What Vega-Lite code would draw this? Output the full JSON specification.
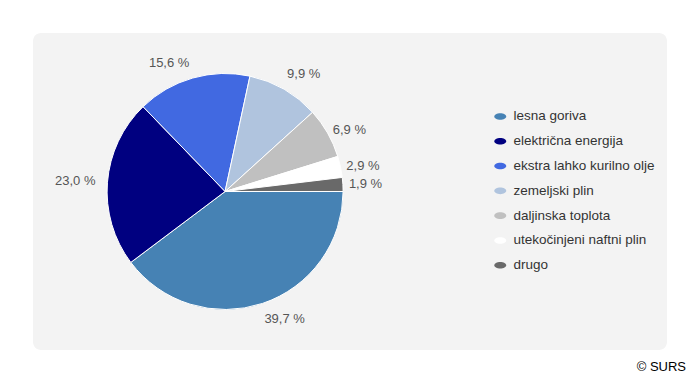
{
  "$schema": "https://vega.github.io/schema/vega-lite/v6.json",
  "width": 634,
  "height": 317,
  "autosize": {"type": "none"},
  "padding": {"left": 33, "top": 33, "right": 33, "bottom": 32},
  "background": "#ffffff",
  "view": {"fill": "#f3f3f3", "stroke": null, "cornerRadius": 8},
  "title": {"text": "© SURS", "orient": "bottom", "anchor": "end", "offset": 11, "dx": 19, "fontSize": 13, "fontWeight": "normal", "font": "Liberation Sans", "color": "#000000", "baseline": "top"},
  "data": {"values": [
    {"k": "lesna goriva", "v": 39.7, "label": "39,7 %"},
    {"k": "električna energija", "v": 23.0, "label": "23,0 %"},
    {"k": "ekstra lahko kurilno olje", "v": 15.6, "label": "15,6 %"},
    {"k": "zemeljski plin", "v": 9.9, "label": "9,9 %"},
    {"k": "daljinska toplota", "v": 6.9, "label": "6,9 %"},
    {"k": "utekočinjeni naftni plin", "v": 2.9, "label": "2,9 %"},
    {"k": "drugo", "v": 1.9, "label": "1,9 %"}
  ]},
  "encoding": {
    "theta": {"field": "v", "type": "quantitative", "stack": true, "scale": {"range": [1.5708, 7.85398]}},
    "order": {"field": "v", "sort": "descending"},
    "color": {
      "field": "k", "type": "nominal",
      "scale": {
        "domain": ["lesna goriva", "električna energija", "ekstra lahko kurilno olje", "zemeljski plin", "daljinska toplota", "utekočinjeni naftni plin", "drugo"],
        "range": ["#4682B4", "#000080", "#4169E1", "#B0C4DE", "#C0C0C0", "#FFFFFF", "#696969"]
      },
      "legend": {
        "title": null, "orient": "none", "legendX": 460.5, "legendY": 76.7, "padding": 0,
        "symbolType": "M-1,0A1,0.55,0,1,1,1,0A1,0.55,0,1,1,-1,0Z",
        "symbolSize": 144, "symbolStrokeWidth": 0, "labelOffset": 6.5, "rowPadding": 9.8,
        "labelFont": "Liberation Sans", "labelFontSize": 13.5, "labelColor": "#333333", "labelLimit": 300
      }
    }
  },
  "layer": [
    {"mark": {"type": "arc", "outerRadius": 118, "stroke": "#ffffff", "strokeWidth": 1, "x": {"expr": "width*0.303"}}},
    {"mark": {"type": "text", "radius": 124, "align": "left", "baseline": "middle", "font": "Liberation Sans", "fontSize": 13, "x": {"expr": "width*0.303"}},
     "encoding": {"text": {"field": "label"}, "color": {"value": "#555555"},
       "opacity": {"condition": {"test": "datum.k === 'daljinska toplota' || datum.k === 'utekočinjeni naftni plin' || datum.k === 'drugo'", "value": 1}, "value": 0}}},
    {"mark": {"type": "text", "radius": 124, "align": "left", "baseline": "middle", "dy": -10, "font": "Liberation Sans", "fontSize": 13, "x": {"expr": "width*0.303"}},
     "encoding": {"text": {"field": "label"}, "color": {"value": "#555555"},
       "opacity": {"condition": {"test": "datum.k === 'zemeljski plin'", "value": 1}, "value": 0}}},
    {"mark": {"type": "text", "radius": 124, "align": "left", "baseline": "middle", "dy": 10, "font": "Liberation Sans", "fontSize": 13, "x": {"expr": "width*0.303"}},
     "encoding": {"text": {"field": "label"}, "color": {"value": "#555555"},
       "opacity": {"condition": {"test": "datum.k === 'lesna goriva'", "value": 1}, "value": 0}}},
    {"mark": {"type": "text", "radius": 130, "align": "right", "baseline": "middle", "font": "Liberation Sans", "fontSize": 13, "x": {"expr": "width*0.303"}},
     "encoding": {"text": {"field": "label"}, "color": {"value": "#555555"},
       "opacity": {"condition": {"test": "datum.k === 'električna energija'", "value": 1}, "value": 0}}},
    {"mark": {"type": "text", "radius": 130, "align": "right", "baseline": "middle", "dy": -4, "font": "Liberation Sans", "fontSize": 13, "x": {"expr": "width*0.303"}},
     "encoding": {"text": {"field": "label"}, "color": {"value": "#555555"},
       "opacity": {"condition": {"test": "datum.k === 'ekstra lahko kurilno olje'", "value": 1}, "value": 0}}}
  ],
  "config": {
    "font": "Liberation Sans"
  }
}
